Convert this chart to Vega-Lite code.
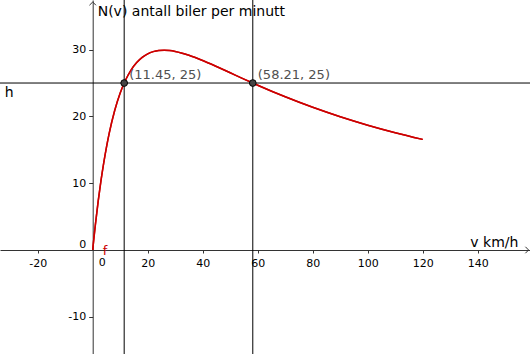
{
  "$schema": "https://vega.github.io/schema/vega-lite/v6.json",
  "width": 530,
  "height": 354,
  "padding": 0,
  "autosize": {"type": "none"},
  "background": "white",
  "config": {
    "view": {"stroke": null},
    "font": "DejaVu Sans",
    "axis": {
      "grid": false, "title": null, "domainColor": "#333", "domainWidth": 1, "tickColor": "#333", "tickWidth": 1,
      "labelFont": "DejaVu Sans", "labelFontSize": 11, "labelColor": "#000", "labelFlush": false, "labelOverlap": false
    },
    "axisX": {"offset": -104, "tickSize": 3, "labelPadding": 4},
    "axisY": {"offset": -92.7, "tickSize": 4, "labelPadding": 3}
  },
  "datasets": {
    "curve": [
      {"v": 0, "n": 0}, {"v": 0.5, "n": 1.996}, {"v": 1, "n": 3.875}, {"v": 2, "n": 7.306},
      {"v": 3, "n": 10.339}, {"v": 4, "n": 13.016}, {"v": 5, "n": 15.376}, {"v": 6, "n": 17.453},
      {"v": 8, "n": 20.878}, {"v": 10, "n": 23.502}, {"v": 12, "n": 25.493}, {"v": 14, "n": 26.981},
      {"v": 16, "n": 28.073}, {"v": 18, "n": 28.85}, {"v": 20, "n": 29.376}, {"v": 22, "n": 29.703},
      {"v": 24, "n": 29.873}, {"v": 26, "n": 29.917}, {"v": 28, "n": 29.863}, {"v": 30, "n": 29.729},
      {"v": 35, "n": 29.152}, {"v": 40, "n": 28.362}, {"v": 45, "n": 27.467}, {"v": 50, "n": 26.531},
      {"v": 55, "n": 25.593}, {"v": 60, "n": 24.674}, {"v": 70, "n": 22.937}, {"v": 80, "n": 21.363},
      {"v": 90, "n": 19.952}, {"v": 100, "n": 18.692}, {"v": 110, "n": 17.567}, {"v": 120, "n": 16.559}
    ],
    "pts": [
      {"v": 11.45, "n": 25, "label": "(11.45, 25)"},
      {"v": 58.21, "n": 25, "label": "(58.21, 25)"}
    ],
    "hline": [{"n": 25}],
    "one": [{}]
  },
  "layer": [
    {
      "data": {"name": "curve"},
      "mark": {"type": "line", "color": "#cc0000", "strokeWidth": 1.5, "interpolate": "monotone", "clip": true},
      "encoding": {
        "x": {
          "field": "v", "type": "quantitative", "title": null,
          "scale": {"domain": [-33.7, 159.0], "nice": false, "zero": false},
          "axis": {
            "values": [-20, 0, 20, 40, 60, 80, 100, 120, 140],
            "labelExpr": "replace(datum.label, '−', '-')",
            "labelOffset": {"condition": {"test": "datum.value === 0", "value": 9}, "value": 0},
            "labelPadding": {"condition": {"test": "datum.value === 0", "value": 3}, "value": 4},
            "tickOpacity": {"condition": {"test": "datum.value === 0", "value": 0}, "value": 1}
          }
        },
        "y": {
          "field": "n", "type": "quantitative", "title": null,
          "scale": {"domain": [-15.57, 37.43], "nice": false, "zero": false},
          "axis": {
            "values": [-10, 0, 10, 20, 30],
            "labelExpr": "replace(datum.label, '−', '-')",
            "labelOffset": {"condition": {"test": "datum.value === 0", "value": -6}, "value": 0},
            "tickOpacity": {"condition": {"test": "datum.value === 0", "value": 0}, "value": 1}
          }
        }
      }
    },
    {
      "data": {"name": "hline"},
      "mark": {"type": "rule", "color": "#000", "strokeWidth": 1},
      "encoding": {"y": {"field": "n", "type": "quantitative", "title": null}}
    },
    {
      "data": {"name": "pts"},
      "mark": {"type": "rule", "color": "#000", "strokeWidth": 1},
      "encoding": {"x": {"field": "v", "type": "quantitative", "title": null}}
    },
    {
      "data": {"name": "curve"},
      "mark": {"type": "line", "color": "#cc0000", "strokeWidth": 1.5, "interpolate": "monotone", "clip": true},
      "encoding": {
        "x": {"field": "v", "type": "quantitative", "title": null},
        "y": {"field": "n", "type": "quantitative", "title": null}
      }
    },
    {
      "data": {"name": "pts"},
      "mark": {"type": "point", "shape": "circle", "filled": true, "fill": "#444", "stroke": "#000", "strokeWidth": 1, "size": 45, "opacity": 1},
      "encoding": {
        "x": {"field": "v", "type": "quantitative", "title": null},
        "y": {"field": "n", "type": "quantitative", "title": null}
      }
    },
    {
      "data": {"name": "pts"},
      "mark": {"type": "text", "align": "left", "baseline": "alphabetic", "dx": 5, "dy": -4, "fontSize": 13, "font": "DejaVu Sans", "color": "#505050"},
      "encoding": {
        "x": {"field": "v", "type": "quantitative", "title": null},
        "y": {"field": "n", "type": "quantitative", "title": null},
        "text": {"field": "label"}
      }
    },
    {
      "data": {"name": "one"},
      "mark": {"type": "text", "align": "left", "baseline": "alphabetic", "dx": 5, "fontSize": 14, "font": "DejaVu Sans", "color": "#000"},
      "encoding": {
        "x": {"datum": 0, "type": "quantitative", "title": null},
        "y": {"datum": 35, "type": "quantitative", "title": null},
        "text": {"value": "N(v) antall biler per minutt"}
      }
    },
    {
      "data": {"name": "one"},
      "mark": {"type": "text", "align": "left", "baseline": "alphabetic", "dy": -3, "fontSize": 14, "font": "DejaVu Sans", "color": "#000"},
      "encoding": {
        "x": {"datum": 137.3, "type": "quantitative", "title": null},
        "y": {"datum": 0, "type": "quantitative", "title": null},
        "text": {"value": "v km/h"}
      }
    },
    {
      "data": {"name": "one"},
      "mark": {"type": "text", "align": "left", "baseline": "alphabetic", "dy": 14, "fontSize": 14, "font": "DejaVu Sans", "color": "#000"},
      "encoding": {
        "x": {"datum": -32, "type": "quantitative", "title": null},
        "y": {"datum": 25, "type": "quantitative", "title": null},
        "text": {"value": "h"}
      }
    },
    {
      "data": {"name": "one"},
      "mark": {"type": "text", "align": "left", "baseline": "alphabetic", "dx": 10, "dy": 5, "fontSize": 13, "font": "DejaVu Sans", "color": "#cc0000"},
      "encoding": {
        "x": {"datum": 0, "type": "quantitative", "title": null},
        "y": {"datum": 0, "type": "quantitative", "title": null},
        "text": {"value": "f"}
      }
    },
    {
      "data": {"name": "one"},
      "mark": {"type": "point", "shape": "M-1,-1L0,0L-1,1", "filled": false, "stroke": "#333", "strokeWidth": 1, "size": 42, "opacity": 1},
      "encoding": {
        "x": {"datum": 158.5, "type": "quantitative", "title": null},
        "y": {"datum": 0, "type": "quantitative", "title": null}
      }
    },
    {
      "data": {"name": "one"},
      "mark": {"type": "point", "shape": "M-1,1L0,0L1,1", "filled": false, "stroke": "#333", "strokeWidth": 1, "size": 42, "opacity": 1},
      "encoding": {
        "x": {"datum": 0, "type": "quantitative", "title": null},
        "y": {"datum": 37.13, "type": "quantitative", "title": null}
      }
    }
  ]
}
